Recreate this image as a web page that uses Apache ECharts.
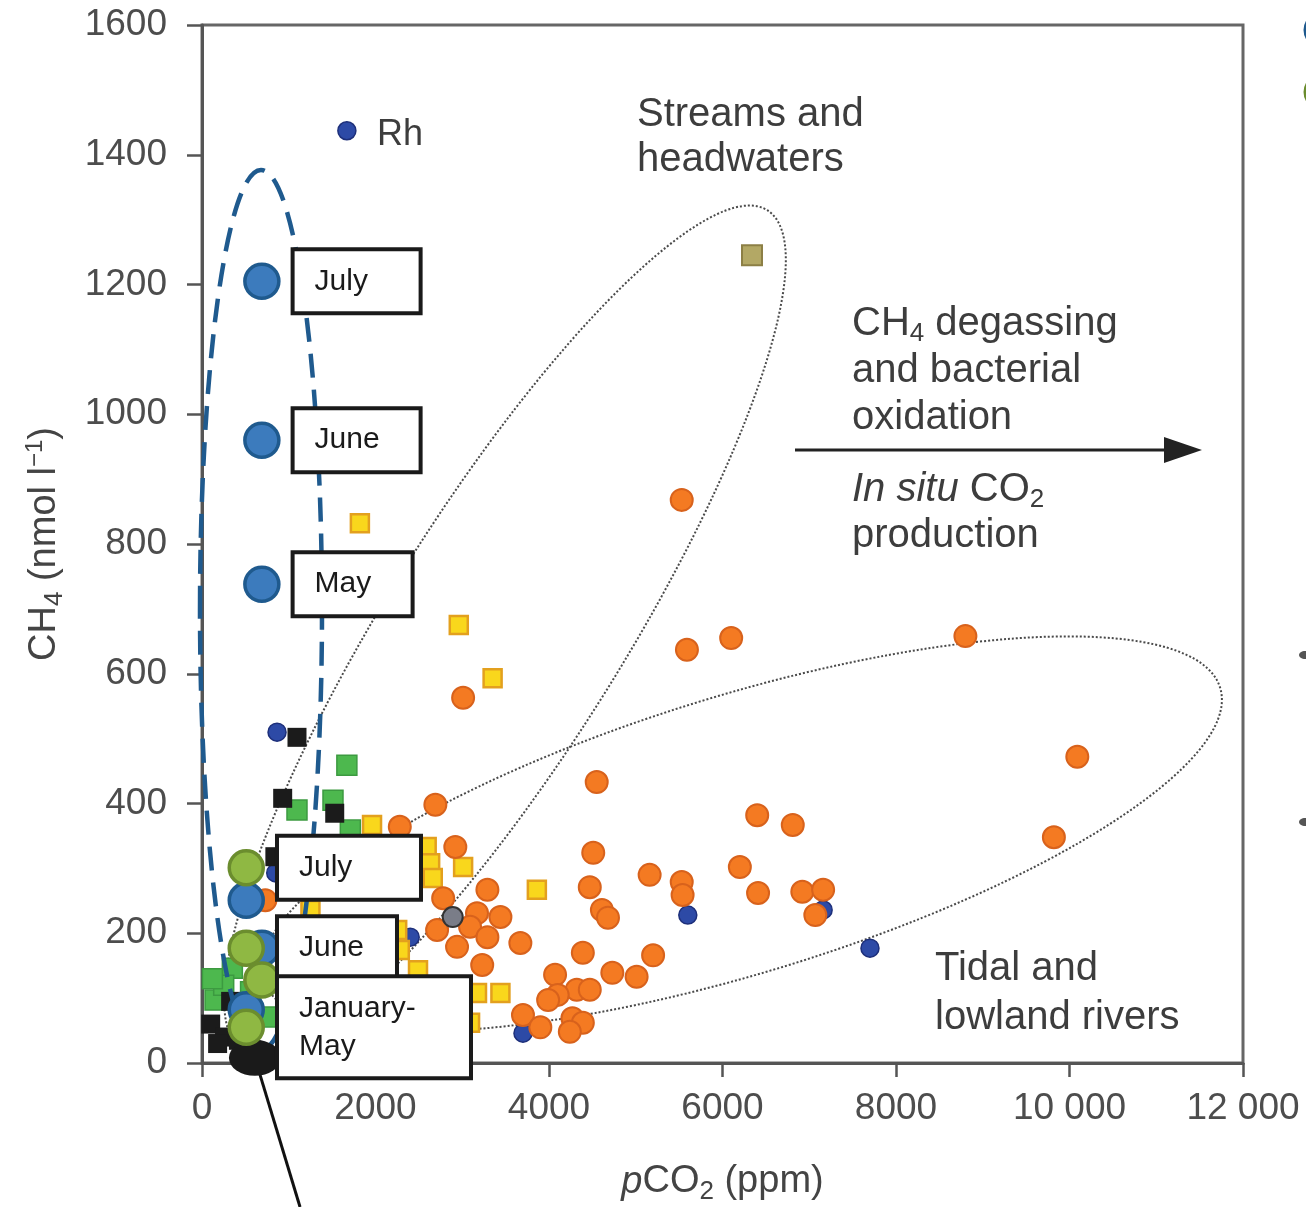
<!DOCTYPE html>
<html>
<head>
<meta charset="utf-8">
<script src="https://cdn.jsdelivr.net/npm/echarts@6/dist/echarts.min.js"></script>
<style>
  html, body { margin: 0; padding: 0; background: #fff; }
  #chart { width: 1306px; height: 1207px; }
</style>
</head>
<body>
<div id="chart"></div>
<script>
// values: [pCO2 (ppm), CH4 (nmol/l)]
const orangeRivers = [
    [5530, 868], [5590, 637], [6100, 655], [8800, 658], [3010, 563], [10090, 472], [9820, 348],
    [4550, 433], [2690, 398], [2280, 364], [6400, 382], [6810, 367], [2920, 333], [4510, 324],
    [6200, 302], [5160, 290], [5530, 279], [5540, 259], [4470, 271], [3290, 267], [6410, 262],
    [6920, 264], [7160, 267], [7070, 228], [4610, 236], [4680, 224], [2780, 254], [3170, 231],
    [3440, 225], [3090, 210], [2710, 205], [3290, 194], [2940, 179], [3670, 185], [3230, 151],
    [4390, 170], [5200, 166], [4070, 136], [4320, 113], [4100, 105], [3990, 97], [4730, 139],
    [5010, 133], [4470, 113], [3700, 74], [3900, 55], [4270, 69], [4390, 62], [4240, 48], [730, 251]
];
const yellowSquares = [
    [1820, 832], [2960, 675], [3350, 593], [1960, 367], [2590, 333], [2630, 308], [2660, 285],
    [3010, 302], [3860, 267], [1250, 236], [2250, 205], [2280, 174], [2490, 143], [3170, 108],
    [3440, 108], [3090, 62], [2420, 97]
];
const blueSites = [[1670, 1437], [865, 510], [5600, 228], [7700, 177], [3700, 46], [7160, 236], [2400, 194], [850, 293]];
const blackSquares = [[1095, 502], [930, 408], [1530, 385], [840, 318], [100, 60], [260, 40], [420, 35], [330, 95], [180, 30]];
const greenSquares = [[1670, 459], [1095, 390], [1510, 405], [1710, 359], [350, 146], [150, 97], [780, 71], [560, 110], [250, 120], [120, 130]];
const oliveSquares = [[6340, 1245]];
const greySites = [[2890, 225]];

// highlighted monthly means
const blueMonths = [[690, 1205], [690, 960], [690, 738], [510, 251], [690, 177], [510, 82]];
const blueMonthLabels = ['July', 'June', 'May', '', '', ''];
const greenMonths = [[510, 301], [510, 177], [690, 128], [510, 55]];
const greenMonthLabels = ['July', 'June', '', 'January-\nMay'];
const winterMean = [[610, 8]];
const pointerLine = [[610, 8], [1130, -222]];

const xTickLabels = ['0', '2000', '4000', '6000', '8000', '10 000', '12 000'];
const yTickLabels = ['0', '200', '400', '600', '800', '1000', '1200', '1400', '1600'];

const FONT = '"Liberation Sans", Arial, sans-serif';
const boxWidths = { July: 124, June: 124, May: 116 };
const lowBoxWidths = { July: 140, June: 116, 'January-\nMay': 190 };

function boxLabel(text, w) {
    return {
        show: true,
        formatter: text,
        position: 'right',
        distance: 14,
        backgroundColor: '#fff',
        borderColor: '#1a1a1a',
        borderWidth: 4,
        padding: [11, 0, 11, 20],
        width: w - 20,
        lineHeight: 38,
        fontFamily: FONT,
        fontSize: 30,
        color: '#1a1a1a',
        align: 'left'
    };
}

const chart = echarts.init(document.getElementById('chart'));

const sub = { fontSize: 26, fontFamily: FONT, padding: [20, 0, 0, 0] };
const sup = { fontSize: 24, fontFamily: FONT, padding: [0, 0, 20, 0] };

const option = {
    animation: false,
    backgroundColor: '#fff',
    grid: { left: 202, right: 63, top: 25, bottom: 144, show: true, borderColor: '#666', borderWidth: 3, outerBoundsMode: 'none' },
    xAxis: {
        type: 'value', min: 0, max: 12000, interval: 2000,
        name: '{i|p}{n|CO}{s|2}{n| (ppm)}', nameLocation: 'middle', nameGap: 96,
        nameTextStyle: {
            rich: {
                i: { fontSize: 38, fontFamily: FONT, fontStyle: 'italic', color: '#444' },
                n: { fontSize: 38, fontFamily: FONT, color: '#444' },
                s: Object.assign({ color: '#444' }, sub)
            }
        },
        axisLine: { lineStyle: { color: '#555', width: 3 } },
        axisTick: { length: 14, lineStyle: { color: '#555', width: 2.5 } },
        axisLabel: { margin: 27, fontSize: 37, fontFamily: FONT, color: '#4d4d4d', formatter: v => xTickLabels[Math.round(v / 2000)] },
        splitLine: { show: false }
    },
    yAxis: {
        type: 'value', min: 0, max: 1600, interval: 200,
        name: '{n|CH}{s|4}{n| (nmol l}{p|−1}{n|)}', nameLocation: 'middle', nameGap: 134,
        nameTextStyle: {
            rich: {
                n: { fontSize: 38, fontFamily: FONT, color: '#444' },
                s: Object.assign({ color: '#444' }, sub),
                p: Object.assign({ color: '#444' }, sup)
            }
        },
        axisLine: { show: true, lineStyle: { color: '#555', width: 3 } },
        axisTick: { show: true, length: 15, lineStyle: { color: '#555', width: 2.5 } },
        axisLabel: { margin: 35, fontSize: 37, fontFamily: FONT, color: '#4d4d4d', formatter: v => yTickLabels[Math.round(v / 200)] },
        splitLine: { show: false }
    },
    series: [
        { type: 'scatter', data: blueSites, symbolSize: 18, z: 2,
          itemStyle: { color: '#2d4aa6', borderColor: '#1d2f7a', borderWidth: 1.5, opacity: 1 } },
        { type: 'scatter', data: yellowSquares, symbol: 'rect', symbolSize: 18, z: 2,
          itemStyle: { color: '#f9d71c', borderColor: '#e3a01e', borderWidth: 2.5, opacity: 1 } },
        { type: 'scatter', data: orangeRivers, symbolSize: 22, z: 2,
          itemStyle: { color: '#f47a22', borderColor: '#d8621c', borderWidth: 2, opacity: 1 } },
        { type: 'scatter', data: greenSquares, symbol: 'rect', symbolSize: 20, z: 2,
          itemStyle: { color: '#4db84e', borderColor: '#3c9a40', borderWidth: 1.5, opacity: 1 } },
        { type: 'scatter', data: blackSquares, symbol: 'rect', symbolSize: 19, z: 2,
          itemStyle: { color: '#1b1b1b', opacity: 1 } },
        { type: 'scatter', data: greySites, symbolSize: 20, z: 2,
          itemStyle: { color: '#7a7d88', borderColor: '#333', borderWidth: 2, opacity: 1 } },
        { type: 'scatter', data: oliveSquares, symbol: 'rect', symbolSize: 20, z: 2,
          itemStyle: { color: '#b3a865', borderColor: '#8c7f45', borderWidth: 2, opacity: 1 } },
        { type: 'line', data: pointerLine, showSymbol: false, clip: false, z: 9,
          lineStyle: { color: '#111', width: 3 } },
        { type: 'scatter', data: winterMean, symbolSize: [52, 36], z: 10,
          itemStyle: { color: '#1a1a1a', opacity: 1 } },
        { type: 'scatter', symbolSize: 34, z: 11,
          itemStyle: { color: '#3c7bbd', borderColor: '#1f5a8e', borderWidth: 3.5, opacity: 1 },
          data: blueMonths.map((p, i) => ({
              value: p,
              label: blueMonthLabels[i] ? boxLabel(blueMonthLabels[i], boxWidths[blueMonthLabels[i]]) : { show: false }
          })) },
        { type: 'scatter', symbolSize: 34, z: 12,
          itemStyle: { color: '#8fb843', borderColor: '#6b8d2e', borderWidth: 3.5, opacity: 1 },
          data: greenMonths.map((p, i) => ({
              value: p,
              label: greenMonthLabels[i] ? boxLabel(greenMonthLabels[i], lowBoxWidths[greenMonthLabels[i]]) : { show: false }
          })) }
    ],
    graphic: [
        // grouping envelopes
        { type: 'ellipse', x: 505, y: 630, rotation: 58 * Math.PI / 180, z: 1, silent: true,
          shape: { cx: 0, cy: 0, rx: 495, ry: 118 },
          style: { fill: 'none', stroke: '#4a4a4a', lineWidth: 2, lineDash: [2, 2] } },
        { type: 'ellipse', x: 742, y: 834, rotation: 17 * Math.PI / 180, z: 1, silent: true,
          shape: { cx: 0, cy: 0, rx: 500, ry: 139 },
          style: { fill: 'none', stroke: '#4a4a4a', lineWidth: 2, lineDash: [2, 2] } },
        { type: 'ellipse', x: 261, y: 610, rotation: 0, z: 8, silent: true,
          shape: { cx: 0, cy: 0, rx: 61, ry: 440 },
          style: { fill: 'none', stroke: '#1f5a8e', lineWidth: 4.5, lineDash: [24, 12] } },
        // annotations
        { type: 'text', x: 377, y: 117, z: 5, silent: true,
          style: { text: 'Rh', font: '36px ' + FONT, fill: '#3d3d3d' } },
        { type: 'text', x: 637, y: 92, z: 5, silent: true,
          style: { text: 'Streams and\nheadwaters', font: '40px ' + FONT, fill: '#3d3d3d', lineHeight: 45 } },
        { type: 'text', x: 852, y: 300, z: 5, silent: true,
          style: {
              text: '{n|CH}{s|4}{n| degassing}\n{n|and bacterial}\n{n|oxidation}',
              rich: {
                  n: { fontSize: 40, fontFamily: FONT, fill: '#3d3d3d', color: '#3d3d3d', lineHeight: 47 },
                  s: { fontSize: 26, fontFamily: FONT, fill: '#3d3d3d', color: '#3d3d3d', padding: [20, 0, 0, 0] }
              }
          } },
        { type: 'line', z: 5, silent: true, shape: { x1: 795, y1: 450, x2: 1172, y2: 450 },
          style: { stroke: '#222', lineWidth: 3 } },
        { type: 'polygon', z: 5, silent: true, shape: { points: [[1164, 437], [1202, 450], [1164, 463]] },
          style: { fill: '#222' } },
        { type: 'text', x: 852, y: 467, z: 5, silent: true,
          style: {
              text: '{i|In situ}{n| CO}{s|2}\n{n|production}',
              rich: {
                  i: { fontSize: 40, fontFamily: FONT, fontStyle: 'italic', fill: '#3d3d3d', color: '#3d3d3d', lineHeight: 46 },
                  n: { fontSize: 40, fontFamily: FONT, fill: '#3d3d3d', color: '#3d3d3d', lineHeight: 46 },
                  s: { fontSize: 26, fontFamily: FONT, fill: '#3d3d3d', color: '#3d3d3d', padding: [20, 0, 0, 0] }
              }
          } },
        { type: 'text', x: 935, y: 944, z: 5, silent: true,
          style: { text: 'Tidal and\nlowland rivers', font: '40px ' + FONT, fill: '#3d3d3d', lineHeight: 49 } },
        // cut-off legend at the right edge
        { type: 'circle', z: 5, silent: true, shape: { cx: 1322, cy: 30, r: 17 },
          style: { fill: '#3c7bbd', stroke: '#1f5a8e', lineWidth: 3 } },
        { type: 'circle', z: 5, silent: true, shape: { cx: 1322, cy: 92, r: 17 },
          style: { fill: '#8fb843', stroke: '#6b8d2e', lineWidth: 3 } },
        { type: 'ellipse', z: 5, silent: true, shape: { cx: 1305, cy: 655, rx: 6, ry: 4 }, style: { fill: '#555' } },
        { type: 'ellipse', z: 5, silent: true, shape: { cx: 1305, cy: 822, rx: 6, ry: 4 }, style: { fill: '#555' } }
    ]
};

chart.setOption(option);
</script>
</body>
</html>
